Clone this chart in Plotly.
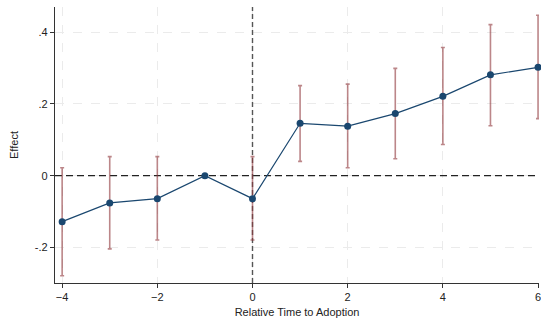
import plotly.graph_objects as go

rel_time = [-4, -3, -2, -1, 0, 1, 2, 3, 4, 5, 6]
effect = [-0.128, -0.076, -0.064, 0.0, -0.064, 0.146, 0.138, 0.173, 0.221, 0.281, 0.302]
ci_upper = [0.022, 0.053, 0.053, 0.0, 0.053, 0.251, 0.255, 0.299, 0.357, 0.421, 0.447]
ci_lower = [-0.279, -0.204, -0.179, 0.0, -0.179, 0.040, 0.022, 0.047, 0.087, 0.139, 0.159]

y_tickvals = [-0.2, 0, 0.2, 0.4]
y_ticktext = ["-.2", "0", ".2", ".4"]
x_tickvals = [-4, -2, 0, 2, 4, 6]

x_range = [-4.15, 6.02]
y_range = [-0.299, 0.470]

err_plus = [u - e for u, e in zip(ci_upper, effect)]
err_minus = [e - l for e, l in zip(effect, ci_lower)]

fig = go.Figure()
# reference lines (drawn as traces under the data)
fig.add_trace(go.Scatter(x=x_range, y=[0, 0], mode="lines",
                         line=dict(color="#222222", width=1.3, dash="7px,4px"),
                         showlegend=False, hoverinfo="skip"))
fig.add_trace(go.Scatter(x=[0, 0], y=y_range, mode="lines",
                         line=dict(color="#555555", width=1.4, dash="5px,3px"),
                         showlegend=False, hoverinfo="skip"))
fig.add_trace(go.Scatter(
    x=rel_time, y=effect, mode="lines+markers",
    line=dict(color="#1a476f", width=1.2),
    marker=dict(color="#1a476f", size=7),
    error_y=dict(type="data", symmetric=False, array=err_plus, arrayminus=err_minus,
                 color="rgba(144,53,59,0.6)", thickness=1.6, width=2),
    showlegend=False,
    cliponaxis=False,
))

fig.update_layout(
    width=541, height=322,
    margin=dict(l=54.5, r=0, t=7, b=38.5),
    paper_bgcolor="white", plot_bgcolor="white",
    font=dict(family="Liberation Sans, Arial, sans-serif", size=11, color="#222222"),
)
fig.update_xaxes(
    range=x_range, tickvals=x_tickvals,
    showline=True, linecolor="#333333", linewidth=1.2,
    ticks="outside", ticklen=4, tickcolor="#333333",
    ticklabeloverflow="allow",
    showgrid=True, gridcolor="#ebebeb", griddash="dash", gridwidth=1,
    zeroline=False,
    title=dict(text="Relative Time to Adoption", standoff=6, font=dict(size=11)),
)
fig.update_yaxes(
    range=y_range, tickvals=y_tickvals, ticktext=y_ticktext,
    showline=True, linecolor="#333333", linewidth=1.2,
    ticks="outside", ticklen=4, tickcolor="#333333",
    showgrid=True, gridcolor="#ebebeb", griddash="dash", gridwidth=1,
    zeroline=False,
    title=dict(text="Effect", standoff=14, font=dict(size=11)),
)

fig.write_html("out.html")
